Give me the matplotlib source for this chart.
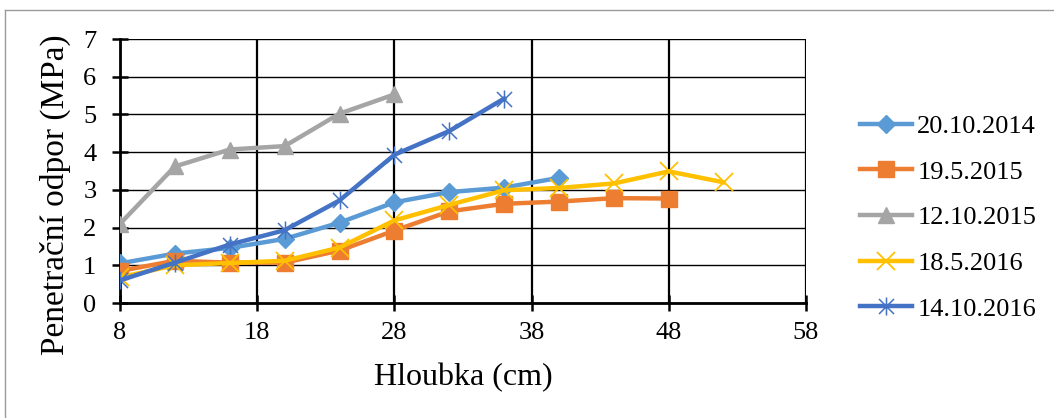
import matplotlib
matplotlib.use("Agg")
import matplotlib.pyplot as plt
from matplotlib.lines import Line2D
from matplotlib.path import Path

# Depth (cm) and penetration resistance (MPa) per measurement date
depth = [8, 12, 16, 20, 24, 28, 32, 36, 40, 44, 48, 52]

labels = ["20.10.2014", "19.5.2015", "12.10.2015", "18.5.2016", "14.10.2016"]

r_2014_10 = [1.05, 1.31, 1.46, 1.70, 2.13, 2.67, 2.94, 3.06, 3.32]
r_2015_05 = [0.85, 1.12, 1.07, 1.07, 1.39, 1.92, 2.43, 2.63, 2.69, 2.78, 2.77]
r_2015_10 = [2.10, 3.62, 4.07, 4.16, 5.02, 5.53]
r_2016_05 = [0.68, 1.00, 1.06, 1.12, 1.47, 2.19, 2.60, 2.99, 3.05, 3.17, 3.49, 3.20]
r_2016_10 = [0.60, 1.07, 1.55, 1.93, 2.72, 3.93, 4.56, 5.42]

x_ticks = [8, 18, 28, 38, 48, 58]
y_ticks = [0, 1, 2, 3, 4, 5, 6, 7]

# six-spoke asterisk marker (an "x" plus a vertical stroke)
star = Path([(-1, -1), (1, 1), (-1, 1), (1, -1), (0, -1.2), (0, 1.2)],
            [Path.MOVETO, Path.LINETO, Path.MOVETO, Path.LINETO,
             Path.MOVETO, Path.LINETO])

series = [r_2014_10, r_2015_05, r_2015_10, r_2016_05, r_2016_10]
colors = ["#5B9BD5", "#ED7D31", "#A5A5A5", "#FFC000", "#4472C4"]
markers = ["D", "s", "^", "x", star]
msizes = [9, 11, 11, 13, 13]
medges = [1.0, 1.0, 1.0, 1.3, 1.1]

plt.rcParams["font.family"] = ["Liberation Serif", "DejaVu Serif"]

W, H = 1054, 418
fig = plt.figure(figsize=(W / 100, H / 100), dpi=100)

# outer frame: top and left edges of the chart area
frame_kw = dict(transform=fig.transFigure, color="#9A9A9A", linewidth=1.0)
fig.add_artist(Line2D([5 / W, 1.0], [1 - 10 / H, 1 - 10 / H], **frame_kw))
fig.add_artist(Line2D([5 / W, 5 / W], [0.0, 1 - 10 / H], **frame_kw))

ax = fig.add_axes([120 / W, 1 - 303 / H, 686 / W, 264 / H])

for vals, lab, c, m, ms, mew in zip(series, labels, colors, markers, msizes, medges):
    ax.plot(depth[:len(vals)], vals, color=c, linewidth=3.2, marker=m,
            markersize=ms, markeredgewidth=mew, markeredgecolor=c,
            markerfacecolor=c, label=lab, zorder=3)

ax.set_xlim(8, 58)
ax.set_ylim(0, 7)
ax.set_xticks(x_ticks)
ax.set_yticks(y_ticks)
ax.grid(axis="x", color="black", linewidth=1.6)
ax.grid(axis="y", color="black", linewidth=1.0)
ax.set_axisbelow(True)

for s in ["top", "right"]:
    ax.spines[s].set_visible(False)
ax.spines["left"].set_linewidth(2.0)
ax.spines["bottom"].set_linewidth(2.0)
ax.tick_params(axis="y", direction="inout", length=12, width=1.8,
               labelsize=19, pad=11)
ax.tick_params(axis="x", direction="inout", length=12, width=1.8,
               labelsize=19, pad=8)

ax.set_xlabel("Hloubka (cm)", fontsize=23, labelpad=13)
ax.set_ylabel("Penetrační odpor (MPa)", fontsize=24)
ax.yaxis.set_label_coords(-0.0714, 0.409)

leg = ax.legend(loc="center left", bbox_to_anchor=(860 / W, 1 - 217.5 / H),
                bbox_transform=fig.transFigure, frameon=False,
                fontsize=19, handlelength=1.97, labelspacing=0.84,
                handletextpad=0.2, borderpad=0, borderaxespad=0)

fig.savefig("out.png", dpi=100)
